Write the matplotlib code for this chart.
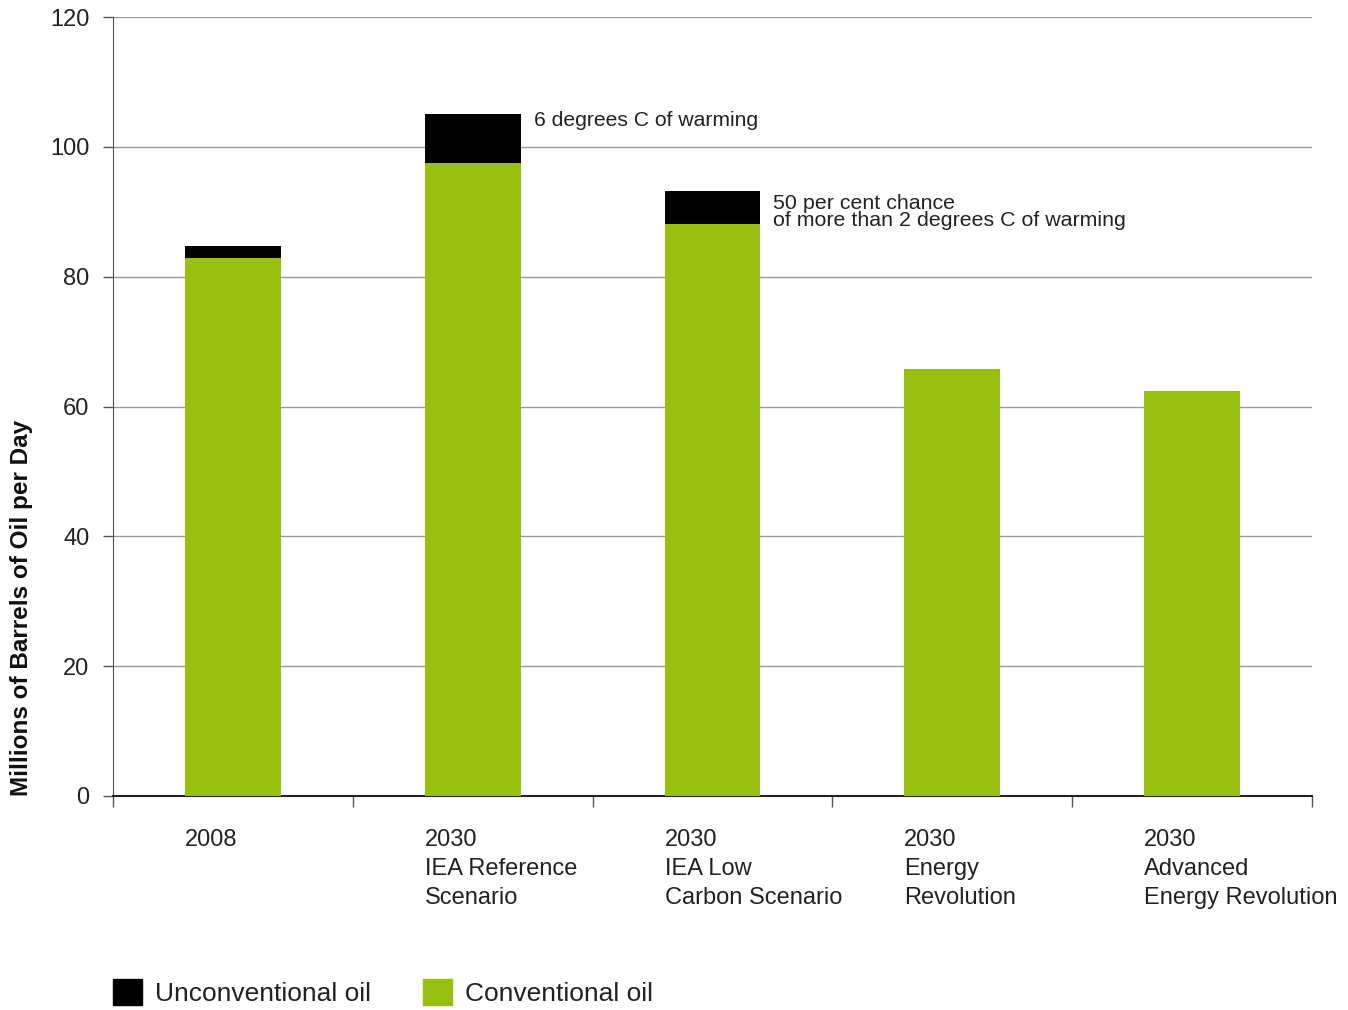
import numpy as np
import matplotlib.pyplot as plt
from matplotlib.patches import Patch

plt.rcParams['font.family'] = ['Liberation Sans', 'DejaVu Sans']

categories = ['2008',
              '2030\nIEA Reference\nScenario',
              '2030\nIEA Low\nCarbon Scenario',
              '2030\nEnergy\nRevolution',
              '2030\nAdvanced\nEnergy Revolution']
conventional = [82.9, 97.5, 88.1, 65.8, 62.4]
unconventional = [1.8, 7.6, 5.1, 0.0, 0.0]
notes = {1: '6 degrees C of warming',
         2: '50 per cent chance\nof more than 2 degrees C of warming'}

green = '#98c010'
black = '#000000'
text_col = '#222222'

fig = plt.figure(figsize=(13.48, 10.10), dpi=100)
ax = fig.add_axes([113/1348, 214/1010, 1199/1348, 779/1010])

x = np.arange(len(categories))
w = 0.4
ax.bar(x, conventional, width=w, color=green, zorder=3)
ax.bar(x, unconventional, width=w, bottom=conventional, color=black, zorder=3)

ax.set_xlim(-0.5, len(categories) - 0.5)
ax.set_ylim(0, 120)
ax.set_yticks(np.arange(0, 121, 20))
ax.yaxis.grid(True, color='#999999', linewidth=1, zorder=0)
ax.tick_params(axis='y', labelsize=17, colors='#555555', labelcolor=text_col,
               length=7, width=1, pad=10)

# category boundaries as ticks, labels drawn as text
ax.set_xticks(np.arange(len(categories) + 1) - 0.5)
ax.set_xticklabels([])
ax.tick_params(axis='x', length=8, width=1, colors='#555555')
for i, c in enumerate(categories):
    ax.annotate(c, xy=(i - w/2, 0), xycoords=('data', 'axes fraction'),
                xytext=(0, -33), textcoords='offset pixels',
                ha='left', va='top', fontsize=17, color=text_col,
                linespacing=1.42)

for s in ['top', 'right']:
    ax.spines[s].set_visible(False)
ax.spines['left'].set_color('#555555')
ax.spines['bottom'].set_color('#222222')
ax.spines['bottom'].set_linewidth(1.5)

# notes beside the stacked bars
ax.annotate(notes[1], xy=(1 + w/2, conventional[1] + unconventional[1] - 1.1),
            xytext=(13, 0), textcoords='offset pixels',
            ha='left', va='center', fontsize=15.2, color=text_col)
ax.annotate(notes[2], xy=(2 + w/2, conventional[2] + unconventional[2] - 3.2),
            xytext=(13, 0), textcoords='offset pixels',
            ha='left', va='center', fontsize=15.4, color=text_col,
            linespacing=0.88)

fig.text(22/1348, 214/1010, 'Millions of Barrels of Oil per Day', rotation=90,
         ha='center', va='bottom', fontsize=17.5, fontweight='bold', color='#111111')

handles = [Patch(color=black, label='Unconventional oil'),
           Patch(color=green, label='Conventional oil')]
fig.legend(handles=handles, loc='lower left', bbox_to_anchor=(113/1348, 0.004),
           ncol=2, frameon=False, fontsize=19, handlelength=1.1, handleheight=1.1,
           handletextpad=0.5, columnspacing=1.95, labelcolor=text_col,
           borderpad=0, borderaxespad=0)

fig.savefig('out.png', dpi=100)
